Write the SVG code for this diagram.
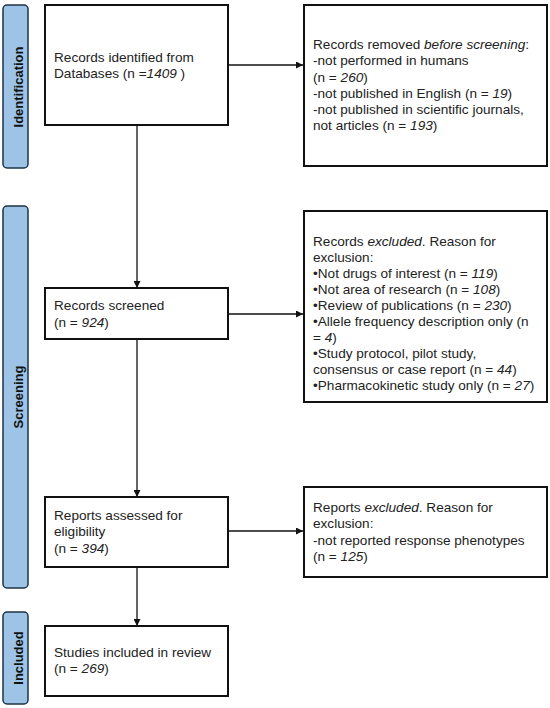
<svg xmlns="http://www.w3.org/2000/svg" width="550" height="708" viewBox="0 0 550 708">
<defs>
<style>
.bar{fill:#9dc3e6;stroke:#1e3344;stroke-width:1.5}
.bl{font-family:"Liberation Sans",Arial,sans-serif;font-size:13px;font-weight:bold;fill:#111;text-anchor:middle}
.box{fill:#fff;stroke:#111;stroke-width:2}
.t{font-family:"Liberation Sans",Arial,sans-serif;font-size:13.6px;fill:#222}
.c{stroke:#111;stroke-width:1.3;fill:none;marker-end:url(#ah)}
</style>
<marker id="ah" viewBox="0 0 10 10" refX="10" refY="5" markerWidth="7" markerHeight="7" markerUnits="userSpaceOnUse" orient="auto">
<path d="M0,0 L10,5 L0,10 z" fill="#111"/>
</marker>
</defs>
<rect width="550" height="708" fill="#fff"/>
<g id="phase-identification">
<rect class="bar" x="3" y="5" width="25" height="163" rx="4"/>
<text class="bl" transform="translate(22.5,87) rotate(-90)">Identification</text>
</g>
<g id="phase-screening">
<rect class="bar" x="3" y="206" width="25" height="382" rx="4"/>
<text class="bl" transform="translate(22.5,397) rotate(-90)">Screening</text>
</g>
<g id="phase-included">
<rect class="bar" x="3" y="612" width="25" height="92" rx="4"/>
<text class="bl" transform="translate(22.5,658) rotate(-90)">Included</text>
</g>
<g id="connectors">
<path class="c" d="M228,65 H303"/>
<path class="c" d="M137,125 V288"/>
<path class="c" d="M228,314 H303"/>
<path class="c" d="M137,339 V497"/>
<path class="c" d="M228,531 H303"/>
<path class="c" d="M137,567 V626"/>
</g>
<g id="identified">
<rect class="box" x="45" y="5" width="183" height="120"/>
<text class="t" x="54" y="62">Records identified from</text>
<text class="t" x="54" y="78">Databases (n =<tspan font-style="italic">1409</tspan> )</text>
</g>
<g id="removed">
<rect class="box" x="304" y="5" width="243" height="161"/>
<text class="t" x="313" y="49">Records removed <tspan font-style="italic">before screening</tspan>:</text>
<text class="t" x="313" y="65">-not performed in humans</text>
<text class="t" x="313" y="82">(n = <tspan font-style="italic">260</tspan>)</text>
<text class="t" x="313" y="98">-not published in English (n = <tspan font-style="italic">19</tspan>)</text>
<text class="t" x="313" y="114">-not published in scientific journals,</text>
<text class="t" x="313" y="130">not articles (n = <tspan font-style="italic">193</tspan>)</text>
</g>
<g id="screened">
<rect class="box" x="45" y="288" width="183" height="51"/>
<text class="t" x="54" y="310">Records screened</text>
<text class="t" x="54" y="327">(n = <tspan font-style="italic">924</tspan>)</text>
</g>
<g id="excluded">
<rect class="box" x="304" y="211" width="243" height="191"/>
<text class="t" x="313" y="246">Records <tspan font-style="italic">excluded</tspan>. Reason for</text>
<text class="t" x="313" y="262">exclusion:</text>
<text class="t" x="313" y="278">•Not drugs of interest (n = <tspan font-style="italic">119</tspan>)</text>
<text class="t" x="313" y="294">•Not area of research (n = <tspan font-style="italic">108</tspan>)</text>
<text class="t" x="313" y="310">•Review of publications (n = <tspan font-style="italic">230</tspan>)</text>
<text class="t" x="313" y="326">•Allele frequency description only (n</text>
<text class="t" x="313" y="342">= <tspan font-style="italic">4</tspan>)</text>
<text class="t" x="313" y="358">•Study protocol, pilot study,</text>
<text class="t" x="313" y="374">consensus or case report (n = <tspan font-style="italic">44</tspan>)</text>
<text class="t" x="313" y="390">•Pharmacokinetic study only (n = <tspan font-style="italic">27</tspan>)</text>
</g>
<g id="assessed">
<rect class="box" x="45" y="497" width="183" height="70"/>
<text class="t" x="54" y="520">Reports assessed for</text>
<text class="t" x="54" y="536">eligibility</text>
<text class="t" x="54" y="553">(n = <tspan font-style="italic">394</tspan>)</text>
</g>
<g id="reports-excluded">
<rect class="box" x="304" y="487" width="243" height="90"/>
<text class="t" x="313" y="512">Reports <tspan font-style="italic">excluded</tspan>. Reason for</text>
<text class="t" x="313" y="528">exclusion:</text>
<text class="t" x="313" y="545">-not reported response phenotypes</text>
<text class="t" x="313" y="561">(n = <tspan font-style="italic">125</tspan>)</text>
</g>
<g id="included">
<rect class="box" x="45" y="626" width="183" height="70"/>
<text class="t" x="54" y="657">Studies included in review</text>
<text class="t" x="54" y="673">(n = <tspan font-style="italic">269</tspan>)</text>
</g>
</svg>
